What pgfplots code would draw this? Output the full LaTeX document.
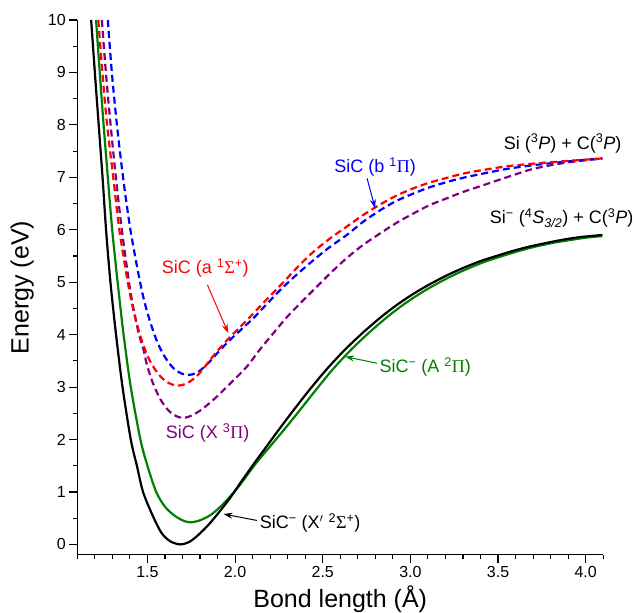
\documentclass[border=0pt]{standalone}
\usepackage{fontspec}
\setmainfont{Liberation Sans}
\newfontfamily\serif{Liberation Serif}
\usepackage{pgfplots}
\pgfplotsset{compat=1.18}
\usetikzlibrary{arrows.meta}
\definecolor{cgreen}{RGB}{0,128,0}
\definecolor{cpurple}{RGB}{128,0,128}
\newcommand{\ann}{\fontsize{18}{20}\selectfont}
\newcommand{\gk}[1]{{\serif #1}}

\begin{document}
\begin{tikzpicture}
\begin{axis}[
  scale only axis,
  width=526pt, height=535pt,
  xmin=1.1, xmax=4.1,
  ymin=-0.2, ymax=10,
  axis lines=left,
  axis line style={-, line width=1.2pt},
  tick align=outside,
  major tick length=8pt,
  minor tick length=4.5pt,
  every tick/.style={black, line width=1.1pt},
  xtick={1.5,2.0,2.5,3.0,3.5,4.0},
  minor xtick={1.1,1.2,...,4.11},
  ytick={0,1,...,10},
  minor ytick={0.5,1.5,...,9.5},
  xticklabel style={/pgf/number format/.cd, fixed, fixed zerofill, precision=1},
  /pgf/number format/assume math mode=true,
  tick label style={font=\fontsize{16}{18}\selectfont},
  xlabel={Bond length (Å)},
  ylabel={Energy (eV)},
  label style={font=\fontsize{25}{28}\selectfont},
  xlabel style={at={(axis description cs:0.5,-0.082)}, anchor=center},
  ylabel style={at={(axis description cs:-0.105,0.5)}, anchor=center},
  clip=false,
]
%% SiC (X 3Pi)
\addplot[cpurple, line width=2.2pt, dash pattern=on 7pt off 4pt, smooth] coordinates {
  (1.240,10) (1.263,9) (1.290,8) (1.320,7) (1.354,6) (1.395,5) (1.42,4.5)
  (1.452,4.0) (1.478,3.71) (1.495,3.45) (1.518,3.2) (1.532,3.07) (1.554,2.9)
  (1.575,2.76) (1.608,2.6) (1.638,2.5) (1.675,2.43) (1.70,2.41) (1.74,2.44)
  (1.80,2.55) (1.877,2.76) (1.97,3.06) (2.067,3.39) (2.14,3.71) (2.219,4.03)
  (2.30,4.35) (2.39,4.66) (2.447,4.85) (2.54,5.16) (2.637,5.46) (2.73,5.71)
  (2.827,5.93) (2.92,6.13) (3.017,6.31) (3.11,6.47) (3.208,6.60) (3.30,6.72)
  (3.398,6.83) (3.55,7.00) (3.70,7.16) (3.89,7.28) (4.095,7.36)
};
%% SiC (b 1Pi)
\addplot[blue, line width=2.2pt, dash pattern=on 7pt off 4pt, smooth] coordinates {
  (1.274,10) (1.297,9) (1.326,8) (1.361,7) (1.403,6) (1.458,5) (1.493,4.5)
  (1.540,4) (1.577,3.71) (1.614,3.5) (1.652,3.35) (1.693,3.26) (1.734,3.23)
  (1.78,3.27) (1.83,3.40) (1.87,3.54) (1.91,3.69) (1.95,3.83) (2.0,3.99)
  (2.1,4.30) (2.18,4.58) (2.257,4.85) (2.35,5.14) (2.447,5.42) (2.54,5.67)
  (2.637,5.90) (2.73,6.15) (2.827,6.37) (2.92,6.55) (3.017,6.69) (3.11,6.81)
  (3.208,6.91) (3.30,6.99) (3.398,7.06) (3.55,7.16) (3.70,7.23) (3.89,7.30)
  (4.095,7.36)
};
%% SiC (a 1Sigma+)
\addplot[red, line width=2.2pt, dash pattern=on 7pt off 4pt, smooth] coordinates {
  (1.220,10) (1.243,9) (1.270,8) (1.305,7) (1.340,6) (1.388,5) (1.418,4.5)
  (1.457,4.0) (1.487,3.71) (1.514,3.5) (1.545,3.33) (1.575,3.2) (1.61,3.10)
  (1.64,3.05) (1.67,3.03) (1.70,3.04) (1.74,3.10) (1.785,3.22) (1.83,3.40)
  (1.87,3.57) (1.905,3.71) (1.95,3.88) (2.0,4.05) (2.086,4.34) (2.18,4.67)
  (2.276,5.0) (2.36,5.30) (2.447,5.58) (2.54,5.83) (2.637,6.06) (2.73,6.28)
  (2.827,6.48) (2.92,6.65) (3.017,6.79) (3.11,6.90) (3.208,6.99) (3.30,7.07)
  (3.398,7.13) (3.55,7.21) (3.70,7.26) (3.89,7.31) (4.095,7.36)
};
%% SiC- (A 2Pi)
\addplot[cgreen, line width=2.2pt, smooth] coordinates {
  (1.207,10) (1.228,9) (1.250,8) (1.274,7) (1.299,6) (1.330,5) (1.364,4)
  (1.405,3) (1.46,2) (1.50,1.5) (1.55,1.0) (1.60,0.72) (1.65,0.56) (1.70,0.46)
  (1.744,0.42) (1.80,0.46) (1.86,0.56) (1.91,0.70) (1.96,0.87) (2.01,1.06)
  (2.06,1.28) (2.12,1.55) (2.20,1.87) (2.28,2.19) (2.355,2.50) (2.455,2.92)
  (2.555,3.33) (2.655,3.69) (2.755,4.01) (2.862,4.32) (2.955,4.56) (3.053,4.78)
  (3.145,4.96) (3.243,5.13) (3.335,5.27) (3.433,5.40) (3.535,5.51) (3.623,5.60)
  (3.715,5.68) (3.813,5.75) (3.905,5.80) (4.003,5.85) (4.095,5.88)
};
%% SiC- (X' 2Sigma+)
\addplot[black, line width=2.2pt, smooth] coordinates {
  (1.179,10) (1.200,9) (1.222,8) (1.244,7) (1.264,6) (1.289,5) (1.321,4)
  (1.358,3) (1.405,2) (1.44,1.5) (1.475,1.0) (1.53,0.55) (1.58,0.22)
  (1.63,0.06) (1.687,0.0) (1.74,0.05) (1.79,0.18) (1.85,0.38) (1.91,0.62)
  (1.97,0.88) (2.04,1.22) (2.11,1.55) (2.18,1.87) (2.25,2.19) (2.32,2.50)
  (2.42,2.93) (2.52,3.33) (2.62,3.69) (2.72,4.01) (2.827,4.32) (2.92,4.56)
  (3.018,4.78) (3.11,4.96) (3.208,5.13) (3.30,5.27) (3.398,5.40) (3.50,5.51)
  (3.588,5.60) (3.68,5.68) (3.778,5.75) (3.87,5.81) (3.968,5.86) (4.095,5.90)
};

%% labels
\node[font=\ann] at (axis cs:3.868,7.646) {Si (\textsuperscript{3}\textit{P}) + C(\textsuperscript{3}\textit{P})};
\node[font=\ann] at (axis cs:3.863,6.22) {Si\textsuperscript{−} (\textsuperscript{4}\textit{S}\textsubscript{\textit{3/2}}) + C(\textsuperscript{3}\textit{P})};
\node[font=\ann, blue] at (axis cs:2.799,7.19) {SiC (b \textsuperscript{1}\gk{Π})};
\draw[blue, line width=1pt, -{Stealth[length=9pt, width=6pt]}] (axis cs:2.753,6.98) -- (axis cs:2.799,6.41);
\node[font=\ann, red] at (axis cs:1.830,5.27) {SiC (a \textsuperscript{1}\gk{Σ}\textsuperscript{+})};
\draw[red, line width=1pt, -{Stealth[length=9pt, width=6pt]}] (axis cs:1.842,4.95) -- (axis cs:1.961,4.03);
\node[font=\ann, cpurple] at (axis cs:1.843,2.13) {SiC (X \textsuperscript{3}\gk{Π})};
\node[font=\ann, cgreen] at (axis cs:3.085,3.385) {SiC\textsuperscript{−} (A \textsuperscript{2}\gk{Π})};
\draw[cgreen, line width=1pt, -{Stealth[length=9pt, width=6pt]}] (axis cs:2.81,3.455) -- (axis cs:2.628,3.58);
\node[font=\ann] at (axis cs:2.428,0.413) {SiC\textsuperscript{−} (X$'$ \textsuperscript{2}\gk{Σ}\textsuperscript{+})};
\draw[black, line width=1pt, -{Stealth[length=9pt, width=6pt]}] (axis cs:2.124,0.457) -- (axis cs:1.934,0.579);

\coordinate (bbA) at (axis cs:0.659,-1.302);
\coordinate (bbB) at (axis cs:4.287,10.381);
\end{axis}
\pgfresetboundingbox
\path[use as bounding box] (bbA) rectangle (bbB);
\end{tikzpicture}
\end{document}
